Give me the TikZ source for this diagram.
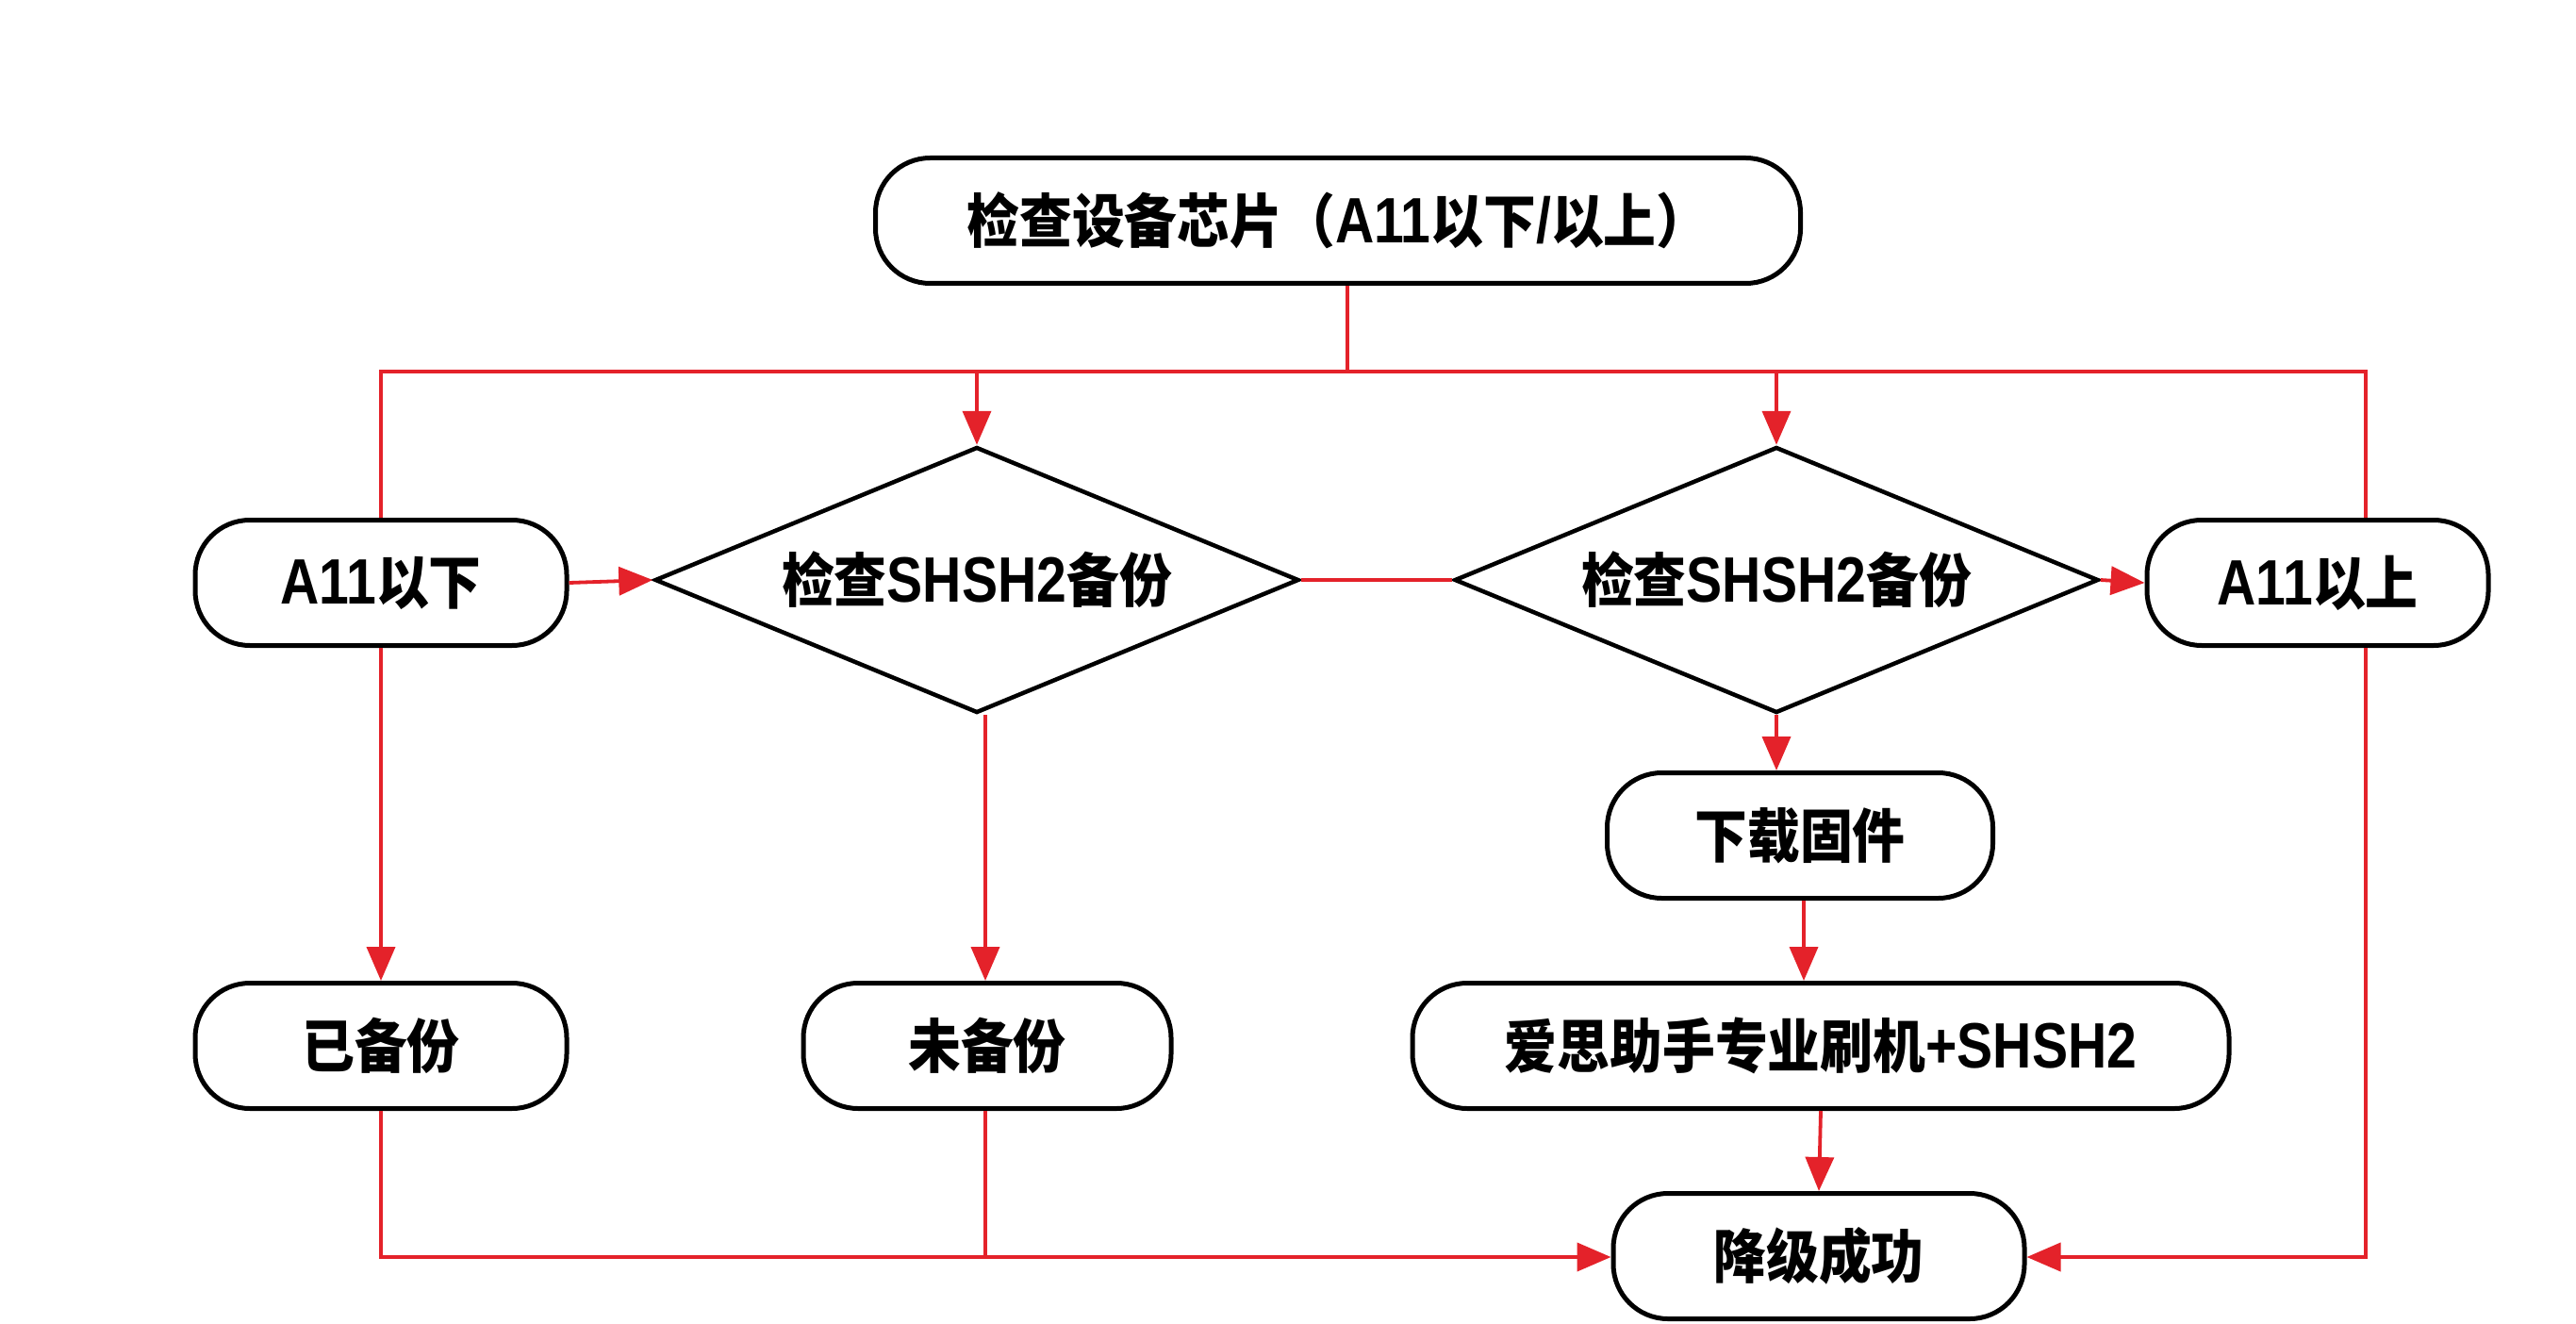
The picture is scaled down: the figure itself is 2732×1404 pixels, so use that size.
\documentclass[tikz,border=0pt]{standalone}
\usepackage{fontspec}
\newfontfamily\cjkf{Noto Sans CJK SC}[FakeStretch=0.9]
\newfontfamily\latfam{Liberation Sans}[FakeStretch=0.84]
\newcommand\latw[1]{{\latfam\bfseries\fontsize{68pt}{72pt}\selectfont #1}}
\usetikzlibrary{shapes.geometric,arrows.meta}
\definecolor{lnred}{RGB}{228,34,42}
\begin{document}
\begin{tikzpicture}[x=1pt,y=-1pt,
  font=\cjkf\bfseries\fontsize{62pt}{72pt}\selectfont,
  pill/.style={draw=black,line width=5pt,rounded corners=58pt,fill=white,minimum height=133pt,inner sep=0pt},
  dia/.style={draw=black,line width=4.5pt,shape=diamond,aspect=2.42,fill=white,minimum width=683pt,minimum height=282pt,inner sep=0pt},
  redline/.style={draw=lnred,line width=3.8pt},
  arr/.style={redline,-{Triangle[length=36pt,width=30pt]}}]
\useasboundingbox (0,0) rectangle (2732,1404);
\fill[white] (0,0) rectangle (2732,1404);
% nodes
\node[pill,minimum width=981pt] (top) at (1419,234) {检查设备芯片（\latw{A11}以下\latw{/}以上）};
\node[pill,minimum width=394pt] (a11d) at (404,618) {\latw{A11}以下};
\node[dia] (d1) at (1036,615) {检查\latw{SHSH2}备份};
\node[dia] (d2) at (1884,615) {检查\latw{SHSH2}备份};
\node[pill,minimum width=362pt] (a11u) at (2458,618) {\latw{A11}以上};
\node[pill,minimum width=394pt] (ybf) at (404,1109) {已备份};
\node[pill,minimum width=390pt] (wbf) at (1047,1109) {未备份};
\node[pill,minimum width=409pt] (dl) at (1909,886) {下载固件};
\node[pill,minimum width=866pt] (as) at (1931,1109) {爱思助手专业刷机\latw{+SHSH2}};
\node[pill,minimum width=436pt] (jc) at (1929,1332) {降级成功};
% junction coordinates
\coordinate (jt) at (1429,394);
\coordinate (xl) at (404,394);
\coordinate (xr) at (2509,394);
\coordinate (yb) at (0,1333);
\coordinate (xw) at (1045,0);
% connectors
\draw[redline] (top.south -| jt) -- (jt);
\draw[redline] (a11d.north) -- (xl) -- (xr) -- (xr |- a11u.north);
\draw[arr] (d1.north |- jt) -- (d1.north);
\draw[arr] (d2.north |- jt) -- (d2.north);
\draw[arr] (a11d.east) -- (d1.west);
\draw[redline] (d1.east) -- (d2.west);
\draw[arr] (d2.east) -- (a11u.west);
\draw[arr] (a11d.south) -- (ybf.north);
\draw[arr] (d1.south -| xw) -- (wbf.north -| xw);
\draw[arr] (d2.south) -- (d2.south |- dl.north);
\draw[arr] (dl.south -| 1913,0) -- (as.north -| 1913,0);
\draw[arr] (as.south) -- (jc.north);
\draw[arr] (ybf.south) -- (ybf.south |- yb) -- (jc.west |- yb);
\draw[redline] (wbf.south -| xw) -- (xw |- yb);
\draw[arr] (a11u.south -| xr) -- (xr |- yb) -- (jc.east |- yb);
\end{tikzpicture}
\end{document}
